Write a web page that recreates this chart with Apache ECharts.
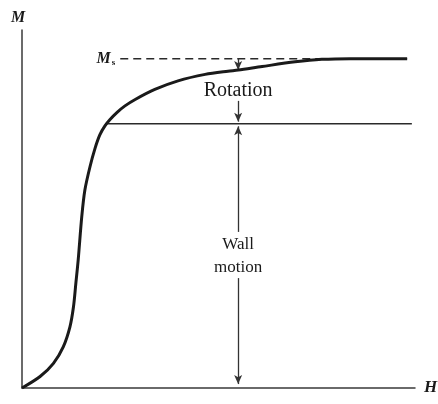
<!DOCTYPE html>
<html>
<head>
<meta charset="utf-8">
<script src="https://cdn.jsdelivr.net/npm/echarts@6/dist/echarts.min.js"></script>
<style>
  html, body { margin: 0; padding: 0; background: #fff; }
  #chart { width: 438px; height: 404px; }
</style>
</head>
<body>
<div id="chart"></div>
<script>
// Magnetization curve M(H): field H and magnetization M in relative units (0–100)
const fieldH = [0, 4.6, 8.0, 10.5, 12.2, 13.1, 13.7, 14.3, 15.2, 16.0, 17.3, 18.6, 19.8, 21.1, 22.4, 24.2, 26.2, 28.8, 33.8, 39.7, 46.6, 52.4, 55.0, 61.1, 69.5, 76.3, 83.5, 98.0];
const magM   = [0, 3.2, 6.9, 11.5, 17.1, 22.7, 29.2, 35.8, 47.8, 55.3, 61.8, 67.0, 70.7, 73.2, 75.0, 77.0, 78.8, 80.6, 83.4, 85.8, 87.6, 88.5, 88.8, 89.8, 91.1, 91.8, 92.0, 92.0];

// Saturation level M_s and the level where wall motion ends
const saturationM = 92.0;
const wallLevelM = 73.8;
const saturationSpanH = [25, 98];
const wallLevelSpanH = [21.3, 99.2];

// Vertical arrows marking the two magnetization processes
const arrowH = 55;
const rotationArrows = [[92.0, 88.8], [80.2, 74.4]];
const wallArrows = [[43.6, 73.1], [30.7, 1.1]];

// Annotation texts: [H, M, text, font size]
const annotations = [
  [arrowH, 83.0, 'Rotation', 20],
  [arrowH, 40.0, 'Wall', 17],
  [arrowH, 33.6, 'motion', 17]
];

const ink = '#1a1a1a';
const serif = '"Liberation Serif", "DejaVu Serif", serif';

const curve = fieldH.map((h, i) => [h, magM[i]]);

const arrowSegments = rotationArrows.concat(wallArrows).map(([from, to]) => [
  { coord: [arrowH, from] },
  { coord: [arrowH, to] }
]);

const chart = echarts.init(document.getElementById('chart'), null, { renderer: 'canvas' });

chart.setOption({
  animation: false,
  backgroundColor: '#fff',
  grid: { left: 22, right: 23, top: 30, bottom: 16, containLabel: false, outerBoundsMode: 'none' },
  xAxis: {
    type: 'value', min: 0, max: 100,
    name: 'H', nameLocation: 'end', nameGap: 9,
    nameTextStyle: { fontFamily: serif, fontSize: 17, fontStyle: 'italic', fontWeight: 'bold', color: ink, verticalAlign: 'middle' },
    axisLine: { lineStyle: { color: '#3a3a3a', width: 1.5 } },
    axisTick: { show: false }, axisLabel: { show: false }, splitLine: { show: false }
  },
  yAxis: {
    type: 'value', min: 0, max: 100,
    name: 'M', nameLocation: 'end', nameGap: 4,
    nameTextStyle: { fontFamily: serif, fontSize: 16, fontStyle: 'italic', fontWeight: 'bold', color: ink, padding: [0, 8, 0, 0] },
    axisLine: { show: true, lineStyle: { color: '#3a3a3a', width: 1.5 } },
    axisTick: { show: false }, axisLabel: { show: false }, splitLine: { show: false }
  },
  series: [
    {
      name: 'M(H)', type: 'line', data: curve, smooth: 0.3,
      symbol: 'none', lineStyle: { color: ink, width: 3 }, z: 5
    },
    {
      name: 'Ms', type: 'line', symbol: 'none',
      data: saturationSpanH.map(h => [h, saturationM]),
      lineStyle: { color: '#2a2a2a', width: 1.5, type: [8, 5] },
      markPoint: {
        symbol: 'circle', symbolSize: 0,
        itemStyle: { color: 'transparent' },
        data: [{
          coord: [saturationSpanH[0], saturationM],
          label: {
            show: true, position: 'left', distance: 5,
            formatter: '{m|M}{s|s}',
            rich: {
              m: { fontFamily: serif, fontSize: 16, fontStyle: 'italic', fontWeight: 'bold', color: ink },
              s: { fontFamily: serif, fontSize: 9, fontWeight: 'bold', color: ink, padding: [8, 0, 0, 1] }
            }
          }
        }]
      }
    },
    {
      name: 'wall level', type: 'line', symbol: 'none',
      data: wallLevelSpanH.map(h => [h, wallLevelM]),
      lineStyle: { color: '#2a2a2a', width: 1.5 },
      markLine: {
        silent: true, animation: false,
        symbol: ['none', 'arrow'], symbolSize: [6, 9],
        label: { show: false },
        lineStyle: { color: '#333', width: 1.3, type: 'solid' },
        data: arrowSegments
      }
    },
    {
      name: 'labels', type: 'scatter', symbolSize: 0,
      itemStyle: { opacity: 1 },
      data: annotations.map(a => ({
        value: [a[0], a[1]], name: a[2],
        label: { fontSize: a[3] }
      })),
      label: {
        show: true, position: 'inside', formatter: p => p.name,
        fontFamily: serif, color: ink, opacity: 1, textBorderWidth: 0
      }
    }
  ]
});
</script>
</body>
</html>
